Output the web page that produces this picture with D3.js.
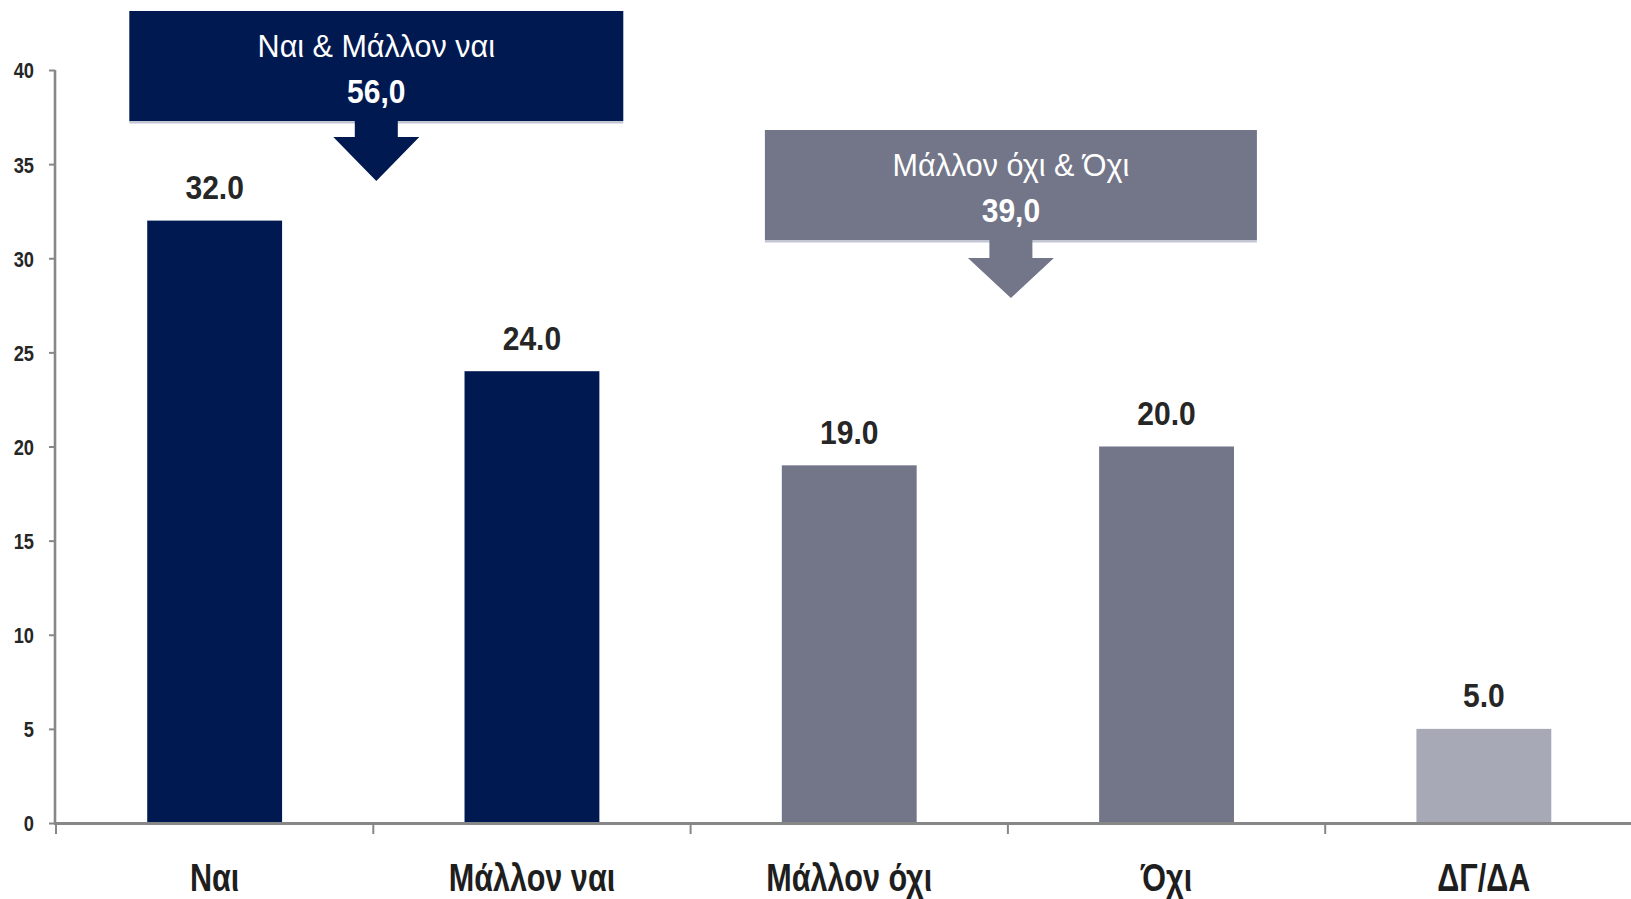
<!DOCTYPE html>
<html>
<head>
<meta charset="utf-8">
<script src="https://cdn.jsdelivr.net/npm/d3@7"></script>
<style>
  html, body { margin: 0; padding: 0; background: #ffffff; }
  svg { display: block; }
  text { font-family: "Liberation Sans", Arial, sans-serif; }
</style>
</head>
<body>
<svg id="chart" width="1631" height="899"></svg>
<script>
// ---- data ----
const categories = ["Ναι", "Μάλλον ναι", "Μάλλον όχι", "Όχι", "ΔΓ/ΔΑ"];
const values = [32.0, 24.0, 19.0, 20.0, 5.0];
const barGroups = ["yes", "yes", "no", "no", "dk"];
const yTicks = [0, 5, 10, 15, 20, 25, 30, 35, 40];
const calloutTitles = ["Ναι & Μάλλον ναι", "Μάλλον όχι & Όχι"];
const calloutValues = ["56,0", "39,0"];
const calloutSpans = [[0, 1], [2, 3]];

// ---- styles ----
const colors = { yes: "#011951", no: "#737589", dk: "#a7a9b6" };
const calloutColors = ["#011951", "#737589"];
const axisColor = "#878787";
const textColor = "#262626";

const svg = d3.select("#chart");
const W = 1631, H = 899;

// horizontally compressed text to emulate a narrow typeface
function placeNarrow(sel, fx, fy, sx) {
  sel.attr("x", 0).attr("y", 0)
     .attr("transform", function(d, i) { return `translate(${fx(d, i)},${fy(d, i)}) scale(${sx},1)`; });
}

const y = d3.scaleLinear().domain([0, 40]).range([823, 70]);
const x = d3.scaleBand().domain(categories)
  .range([56, 1642.5]).paddingInner(0.575).paddingOuter(0.2875);

// y axis
const yAxis = d3.axisLeft(y).tickValues(yTicks).tickSize(6).tickPadding(0).tickFormat(d3.format("d"));
const gy = svg.append("g").attr("transform", "translate(55,0)").call(yAxis);
gy.select(".domain").attr("stroke", axisColor).attr("stroke-width", 2.6)
  .attr("d", `M0,${y(40)}V${y(0)}`);
gy.selectAll(".tick line").attr("stroke", axisColor).attr("stroke-width", 2);
gy.selectAll(".tick text")
  .attr("fill", textColor).attr("font-size", 22).attr("font-weight", "bold")
  .attr("font-family", '"Liberation Sans", Arial, sans-serif')
  .attr("dy", "0.36em")
  .attr("x", 0)
  .attr("transform", `translate(-21,0) scale(0.83,1)`);

// bars
svg.append("g").selectAll("rect").data(categories).join("rect")
  .attr("x", d => x(d))
  .attr("y", (d, i) => y(values[i]))
  .attr("width", x.bandwidth())
  .attr("height", (d, i) => y(0) - y(values[i]))
  .attr("fill", (d, i) => colors[barGroups[i]]);

// x axis line and boundary ticks
svg.append("line").attr("x1", 54).attr("x2", W).attr("y1", y(0) + 0.5).attr("y2", y(0) + 0.5)
  .attr("stroke", axisColor).attr("stroke-width", 3);
const bounds = d3.range(categories.length + 1).map(i => x.range()[0] + i * x.step());
svg.append("g").selectAll("line").data(bounds).join("line")
  .attr("x1", d => d).attr("x2", d => d)
  .attr("y1", y(0)).attr("y2", y(0) + 11)
  .attr("stroke", axisColor).attr("stroke-width", 2);

// category labels
svg.append("g").selectAll("text").data(categories).join("text")
  .call(placeNarrow, d => x(d) + x.bandwidth() / 2, () => 891, 0.785)
  .attr("text-anchor", "middle")
  .attr("font-size", 39).attr("font-weight", "bold").attr("fill", "#1e1e1e")
  .text(d => d);

// value labels
svg.append("g").selectAll("text").data(categories).join("text")
  .call(placeNarrow, d => x(d) + x.bandwidth() / 2, (d, i) => y(values[i]) - 21.5, 0.91)
  .attr("text-anchor", "middle")
  .attr("font-size", 33).attr("font-weight", "bold").attr("fill", textColor)
  .text((d, i) => d3.format(".1f")(values[i]));

// callouts
const calloutLayout = [
  { top: 11, bottom: 121, half: 247, shaftEnd: 137, tip: 181 },
  { top: 130, bottom: 240, half: 246, shaftEnd: 258, tip: 298 }
];
calloutTitles.forEach((t, k) => {
  const [a, b] = calloutSpans[k];
  const cx = ((x(categories[a]) + x(categories[b])) / 2 + x.bandwidth() / 2) + 3;
  const L = calloutLayout[k];
  const g = svg.append("g");
  g.append("rect").attr("x", cx - L.half).attr("y", L.top)
    .attr("width", 2 * L.half).attr("height", L.bottom - L.top)
    .attr("fill", calloutColors[k]);
  g.append("rect").attr("x", cx - L.half).attr("y", L.bottom)
    .attr("width", 2 * L.half).attr("height", 2.5)
    .attr("fill", "#c3c6d3");
  const sw = 21.5, hw = 43;
  g.append("path")
    .attr("d", `M${cx - sw},${L.bottom} H${cx + sw} V${L.shaftEnd} H${cx + hw} L${cx},${L.tip} L${cx - hw},${L.shaftEnd} H${cx - sw} Z`)
    .attr("fill", calloutColors[k]);
  g.append("text")
    .call(placeNarrow, () => cx, () => L.top + 46, 0.97)
    .attr("text-anchor", "middle").attr("font-size", 31.5).attr("fill", "#ffffff")
    .text(t);
  g.append("text")
    .call(placeNarrow, () => cx, () => L.top + 92, 0.91)
    .attr("text-anchor", "middle").attr("font-size", 33).attr("font-weight", "bold").attr("fill", "#ffffff")
    .text(calloutValues[k]);
});
</script>
</body>
</html>
